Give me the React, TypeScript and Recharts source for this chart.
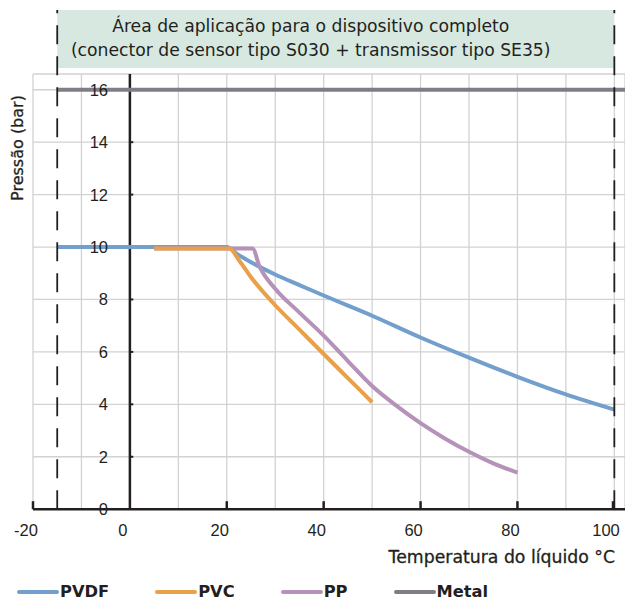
import { LineChart, Line, XAxis, YAxis, CartesianGrid, ReferenceLine, ReferenceArea, Legend, Label } from 'recharts'

// temperatures (°C) and pressures (bar)
const pvdfTemp = [-15, 20, 22, 25, 30, 35, 40, 50, 60, 70, 80, 90, 100]
const pvdfBar = [10, 10, 9.75, 9.42, 8.95, 8.55, 8.15, 7.38, 6.55, 5.78, 5.05, 4.38, 3.8]

const pvcTemp = [5, 20.5, 22.7, 25, 30, 35, 40, 45, 50]
const pvcBar = [9.94, 9.94, 9.45, 8.85, 7.78, 6.85, 5.92, 5.0, 4.08]

const ppTemp = [5, 25.3, 26.8, 30, 35, 40, 45, 50, 55, 60, 65, 70, 75, 80]
const ppBar = [9.94, 9.94, 9.24, 8.41, 7.5, 6.62, 5.65, 4.7, 3.95, 3.28, 2.7, 2.19, 1.75, 1.39]

const metalTemp = [-15, 102.2]
const metalBar = [16, 16]

const xTicks = [-20, -10, 0, 10, 20, 30, 40, 50, 60, 70, 80, 90, 100]
const yTicks = [0, 2, 4, 6, 8, 10, 12, 14, 16]

const legendNames = ['PVDF', 'PVC', 'PP', 'Metal']
const colors: Record<string, string> = {
  PVDF: '#739fcd',
  PVC: '#e9a04b',
  PP: '#b592b8',
  Metal: '#7e7f86',
}

const ink = '#231f20'
const sans = '"Liberation Sans", Arial, sans-serif'
const wide = '"DejaVu Sans", sans-serif'

const rows = (t: number[], p: number[]) => t.map((v, i) => ({ t: v, p: p[i] }))

const XTick = ({ x, y, payload }: any) => {
  const v = payload.value
  if (v % 20 !== 0) return null
  return (
    <g>
      {v !== 0 && <line x1={x} x2={x} y1={y} y2={y - 8} stroke={ink} strokeWidth={2.5} />}
      <text x={x - 7} y={y + 26.5} textAnchor="middle" fontFamily={sans} fontSize={16.5} fill={ink}>{v}</text>
    </g>
  )
}

const YTick = ({ x, y, payload }: any) => (
  <text x={x + 75} y={y + 6} textAnchor="end" fontFamily={sans} fontSize={16.5} fill={ink}>{payload.value}</text>
)

const LegendBox = () => (
  <div style={{ display: 'flex', gap: 45, paddingLeft: 16, fontFamily: wide, fontWeight: 700, fontSize: 16.3, color: ink, lineHeight: '18px' }}>
    {legendNames.map(n => (
      <div key={n} style={{ display: 'flex', alignItems: 'center' }}>
        <svg width={44} height={18}>
          <line x1={3} x2={41} y1={9} y2={9} stroke={colors[n]} strokeWidth={4} strokeLinecap="round" />
        </svg>
        <span>{n}</span>
      </div>
    ))}
  </div>
)

export default function App() {
  return (
    <div style={{ position: 'absolute', left: 0, top: 0, fontFamily: sans }}>
      <LineChart width={625} height={602} margin={{ top: 74, right: 0, left: 32, bottom: 32.8 }}>
        <CartesianGrid stroke="#d2d2d2" strokeWidth={1.3} />
        <XAxis
          dataKey="t" type="number" domain={[-20, 102.2]} ticks={xTicks} allowDuplicatedCategory={false}
          height={60} tickSize={0} tickMargin={0} tickLine={false} tick={<XTick />}
          axisLine={{ stroke: ink, strokeWidth: 2.5 }}
        >
          <Label content={({ viewBox }: any) => (
            <text x={viewBox.x + viewBox.width - 10} y={viewBox.y + 54} textAnchor="end" fontFamily={wide} fontSize={17.3} fill={ink} stroke={ink} strokeWidth={0.3}>
              Temperatura do líquido °C
            </text>
          )} />
        </XAxis>
        <YAxis
          type="number" domain={[0, 16.6]} ticks={yTicks} width={1} tickSize={0} tickMargin={0}
          tickLine={false} axisLine={false} tick={<YTick />}
        >
          <Label content={({ viewBox }: any) => (
            <text x={viewBox.x - 15} y={viewBox.y + 74} transform={`rotate(-90 ${viewBox.x - 15} ${viewBox.y + 74})`} textAnchor="middle" dominantBaseline="central" fontFamily={wide} fontSize={16} fill={ink} stroke={ink} strokeWidth={0.3}>
              Pressão (bar)
            </text>
          )} />
        </YAxis>

        <ReferenceArea
          x1={-15} x2={100} y1={16.83} y2={19.04} ifOverflow="visible" fill="#d7e8e1" fillOpacity={1} stroke="none"
          label={({ viewBox }: any) => (
            <text fontFamily={wide} fontSize={17.2} fill={ink}>
              <tspan x={viewBox.x + viewBox.width * 0.455} y={viewBox.y + 22} textAnchor="middle">Área de aplicação para o dispositivo completo</tspan>
              <tspan x={viewBox.x + viewBox.width * 0.455} y={viewBox.y + 46} textAnchor="middle">(conector de sensor tipo S030 + transmissor tipo SE35)</tspan>
            </text>
          )}
        />

        <ReferenceLine x={0} stroke={ink} strokeWidth={2.5} />
        {yTicks.filter(v => v > 0).map(v => (
          <ReferenceLine key={v} segment={[{ x: 0, y: v }, { x: 0.7, y: v }]} stroke={ink} strokeWidth={2} />
        ))}

        <Line data={rows(metalTemp, metalBar)} dataKey="p" name="Metal" stroke={colors.Metal} strokeWidth={4} dot={false} isAnimationActive={false} />
        <Line data={rows(pvdfTemp, pvdfBar)} dataKey="p" name="PVDF" type="monotone" stroke={colors.PVDF} strokeWidth={4} dot={false} isAnimationActive={false} />
        <Line data={rows(ppTemp, ppBar)} dataKey="p" name="PP" type="monotone" stroke={colors.PP} strokeWidth={4} dot={false} isAnimationActive={false} />
        <Line data={rows(pvcTemp, pvcBar)} dataKey="p" name="PVC" type="monotone" stroke={colors.PVC} strokeWidth={4} dot={false} isAnimationActive={false} />

        <ReferenceLine segment={[{ x: -15, y: 0 }, { x: -15, y: 19.04 }]} ifOverflow="visible" stroke={ink} strokeWidth={1.8} strokeDasharray="19 12" />
        <ReferenceLine segment={[{ x: 100, y: 0 }, { x: 100, y: 19.04 }]} ifOverflow="visible" stroke={ink} strokeWidth={1.8} strokeDasharray="19 12" />

        <Legend verticalAlign="middle" align="center" wrapperStyle={{ top: 583, left: 0, width: 625 }} content={() => <LegendBox />} />
      </LineChart>
    </div>
  )
}
